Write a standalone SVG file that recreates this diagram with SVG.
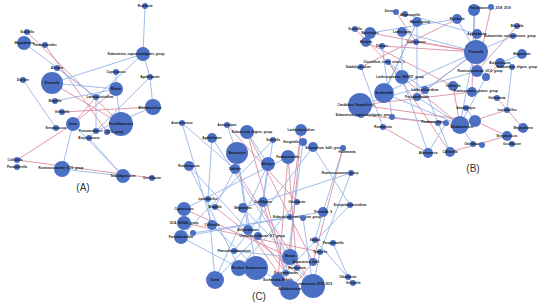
<svg xmlns="http://www.w3.org/2000/svg" width="550" height="308" viewBox="0 0 550 308">
<style>
.n{fill:#4a6fc3}
.e line{stroke-width:1;stroke-opacity:.85;fill:none}
.b{stroke:#8fb2e6}
.r{stroke:#d98a9e}
.t{font-family:"Liberation Sans",Arial,sans-serif;font-size:3px;font-weight:bold;fill:#111;text-anchor:middle;dominant-baseline:central}
.p{font-family:"Liberation Sans",Arial,sans-serif;font-size:10px;fill:#333;text-anchor:middle}
</style>
<rect width="550" height="308" fill="#fff"/>
<g id="connectors" class="e">
<!-- Panel A -->
<line class="b" x1="145" y1="6" x2="143" y2="54"/>
<line class="r" x1="27" y1="32" x2="121" y2="124"/>
<line class="r" x1="45" y1="45" x2="107" y2="132"/>
<line class="b" x1="24" y1="43" x2="96" y2="97"/>
<line class="b" x1="143" y1="54" x2="52" y2="83"/>
<line class="b" x1="143" y1="54" x2="150" y2="77"/>
<line class="b" x1="143" y1="54" x2="96" y2="97"/>
<line class="b" x1="150" y1="77" x2="153" y2="107"/>
<line class="b" x1="150" y1="77" x2="89" y2="138"/>
<line class="b" x1="57" y1="68" x2="96" y2="97"/>
<line class="b" x1="52" y1="83" x2="116" y2="89"/>
<line class="r" x1="52" y1="83" x2="121" y2="124"/>
<line class="b" x1="23" y1="80" x2="56" y2="128"/>
<line class="b" x1="116" y1="72" x2="116" y2="89"/>
<line class="b" x1="116" y1="89" x2="121" y2="124"/>
<line class="r" x1="116" y1="89" x2="73" y2="124"/>
<line class="b" x1="55" y1="101" x2="116" y2="89"/>
<line class="r" x1="62" y1="112" x2="153" y2="107"/>
<line class="r" x1="96" y1="97" x2="73" y2="124"/>
<line class="b" x1="96" y1="97" x2="96" y2="131"/>
<line class="b" x1="73" y1="124" x2="62" y2="169"/>
<line class="b" x1="73" y1="124" x2="123" y2="176"/>
<line class="r" x1="73" y1="124" x2="17" y2="160"/>
<line class="r" x1="17" y1="160" x2="152" y2="178"/>
<line class="b" x1="62" y1="169" x2="123" y2="176"/>
<line class="b" x1="89" y1="138" x2="123" y2="176"/>
<line class="b" x1="121" y1="124" x2="107" y2="132"/>
<line class="b" x1="153" y1="107" x2="96" y2="131"/>
<!-- Panel B -->
<line class="r" x1="370" y1="33" x2="476" y2="52"/>
<line class="r" x1="366" y1="42" x2="453" y2="86"/>
<line class="b" x1="402" y1="32" x2="402" y2="77"/>
<line class="b" x1="402" y1="32" x2="476" y2="52"/>
<line class="b" x1="417" y1="22" x2="384" y2="93"/>
<line class="b" x1="457" y1="19" x2="476" y2="52"/>
<line class="r" x1="457" y1="19" x2="361" y2="67"/>
<line class="b" x1="474" y1="10" x2="476" y2="52"/>
<line class="r" x1="474" y1="10" x2="472" y2="92"/>
<line class="r" x1="396" y1="12" x2="416" y2="42"/>
<line class="b" x1="405" y1="14" x2="477" y2="34"/>
<line class="r" x1="355" y1="29" x2="402" y2="77"/>
<line class="r" x1="416" y1="42" x2="476" y2="52"/>
<line class="b" x1="382" y1="46" x2="392" y2="117"/>
<line class="r" x1="517" y1="26" x2="477" y2="71"/>
<line class="b" x1="477" y1="34" x2="460" y2="125"/>
<line class="b" x1="513" y1="36" x2="476" y2="52"/>
<line class="b" x1="476" y1="52" x2="384" y2="93"/>
<line class="b" x1="476" y1="52" x2="477" y2="71"/>
<line class="r" x1="476" y1="52" x2="417" y2="97"/>
<line class="b" x1="522" y1="54" x2="500" y2="63"/>
<line class="r" x1="500" y1="63" x2="486" y2="77"/>
<line class="b" x1="512" y1="67" x2="507" y2="110"/>
<line class="r" x1="388" y1="62" x2="450" y2="152"/>
<line class="b" x1="361" y1="67" x2="383" y2="127"/>
<line class="r" x1="402" y1="77" x2="460" y2="125"/>
<line class="b" x1="402" y1="77" x2="428" y2="153"/>
<line class="b" x1="477" y1="71" x2="360" y2="105"/>
<line class="b" x1="486" y1="77" x2="460" y2="125"/>
<line class="b" x1="384" y1="93" x2="460" y2="125"/>
<line class="b" x1="425" y1="90" x2="450" y2="152"/>
<line class="b" x1="425" y1="90" x2="476" y2="52"/>
<line class="r" x1="453" y1="86" x2="460" y2="125"/>
<line class="r" x1="472" y1="92" x2="360" y2="105"/>
<line class="r" x1="497" y1="98" x2="523" y2="128"/>
<line class="b" x1="417" y1="97" x2="460" y2="125"/>
<line class="r" x1="360" y1="105" x2="475" y2="121"/>
<line class="b" x1="392" y1="117" x2="438" y2="123"/>
<line class="b" x1="466" y1="108" x2="475" y2="121"/>
<line class="r" x1="507" y1="110" x2="460" y2="125"/>
<line class="b" x1="460" y1="125" x2="473" y2="144"/>
<line class="r" x1="475" y1="121" x2="507" y2="136"/>
<line class="r" x1="507" y1="136" x2="450" y2="152"/>
<line class="b" x1="446" y1="123" x2="428" y2="153"/>
<line class="b" x1="473" y1="144" x2="482" y2="145"/>
<line class="r" x1="361" y1="115" x2="460" y2="125"/>
<line class="r" x1="491" y1="7" x2="477" y2="71"/>
<line class="b" x1="417" y1="22" x2="417" y2="97"/>
<line class="r" x1="382" y1="46" x2="476" y2="52"/>
<line class="b" x1="388" y1="62" x2="425" y2="90"/>
<line class="r" x1="383" y1="127" x2="428" y2="153"/>
<line class="b" x1="370" y1="33" x2="457" y2="19"/>
<line class="b" x1="384" y1="93" x2="417" y2="22"/>
<!-- Panel C -->
<line class="b" x1="182" y1="123" x2="212" y2="225"/>
<line class="b" x1="182" y1="123" x2="235" y2="169"/>
<line class="b" x1="227" y1="125" x2="237" y2="153"/>
<line class="r" x1="247" y1="132" x2="313" y2="262"/>
<line class="r" x1="247" y1="132" x2="286" y2="273"/>
<line class="b" x1="247" y1="132" x2="268" y2="164"/>
<line class="b" x1="212" y1="138" x2="208" y2="199"/>
<line class="b" x1="273" y1="140" x2="263" y2="202"/>
<line class="r" x1="301" y1="130" x2="290" y2="257"/>
<line class="r" x1="301" y1="130" x2="290" y2="217"/>
<line class="b" x1="303" y1="142" x2="286" y2="273"/>
<line class="b" x1="313" y1="147" x2="350" y2="205"/>
<line class="b" x1="343" y1="148" x2="323" y2="212"/>
<line class="b" x1="237" y1="153" x2="256" y2="268"/>
<line class="b" x1="237" y1="153" x2="248" y2="230"/>
<line class="b" x1="288" y1="157" x2="184" y2="209"/>
<line class="r" x1="288" y1="157" x2="278" y2="280"/>
<line class="r" x1="288" y1="157" x2="297" y2="268"/>
<line class="b" x1="189" y1="166" x2="239" y2="268"/>
<line class="b" x1="189" y1="166" x2="248" y2="230"/>
<line class="r" x1="235" y1="169" x2="313" y2="286"/>
<line class="b" x1="268" y1="164" x2="215" y2="280"/>
<line class="b" x1="268" y1="164" x2="258" y2="236"/>
<line class="b" x1="351" y1="173" x2="320" y2="252"/>
<line class="b" x1="351" y1="173" x2="243" y2="208"/>
<line class="b" x1="208" y1="199" x2="215" y2="280"/>
<line class="r" x1="263" y1="202" x2="290" y2="290"/>
<line class="b" x1="297" y1="202" x2="239" y2="268"/>
<line class="b" x1="350" y1="205" x2="278" y2="280"/>
<line class="b" x1="323" y1="212" x2="315" y2="240"/>
<line class="r" x1="184" y1="209" x2="290" y2="257"/>
<line class="b" x1="184" y1="209" x2="184" y2="223"/>
<line class="r" x1="215" y1="207" x2="313" y2="286"/>
<line class="b" x1="243" y1="208" x2="290" y2="257"/>
<line class="r" x1="184" y1="223" x2="320" y2="252"/>
<line class="b" x1="212" y1="225" x2="256" y2="268"/>
<line class="b" x1="290" y1="217" x2="181" y2="237"/>
<line class="b" x1="303" y1="218" x2="313" y2="286"/>
<line class="b" x1="193" y1="233" x2="323" y2="212"/>
<line class="r" x1="248" y1="230" x2="290" y2="290"/>
<line class="r" x1="258" y1="236" x2="286" y2="273"/>
<line class="b" x1="315" y1="240" x2="353" y2="283"/>
<line class="b" x1="333" y1="243" x2="348" y2="277"/>
<line class="b" x1="234" y1="251" x2="290" y2="257"/>
<line class="b" x1="290" y1="257" x2="278" y2="280"/>
<line class="b" x1="320" y1="252" x2="313" y2="286"/>
<line class="r" x1="313" y1="262" x2="290" y2="290"/>
<line class="b" x1="256" y1="268" x2="278" y2="280"/>
<line class="b" x1="297" y1="268" x2="313" y2="286"/>
<line class="b" x1="215" y1="280" x2="258" y2="236"/>
<line class="r" x1="343" y1="148" x2="313" y2="262"/>
<line class="r" x1="227" y1="125" x2="297" y2="202"/>
<line class="b" x1="212" y1="138" x2="297" y2="268"/>
<line class="b" x1="273" y1="140" x2="181" y2="237"/>
<line class="b" x1="313" y1="147" x2="234" y2="251"/>
<line class="b" x1="235" y1="169" x2="215" y2="207"/>
<line class="b" x1="181" y1="237" x2="239" y2="268"/>
</g>
<!-- Panel A nodes -->
<g id="A1"><circle class="n" cx="145" cy="6" r="3"/><text class="t" x="145" y="6">Roseburia</text></g>
<g id="A2"><circle class="n" cx="27" cy="32" r="3"/><text class="t" x="27" y="32">Sutterella</text></g>
<g id="A3"><circle class="n" cx="24" cy="43" r="7"/><text class="t" x="24" y="43">Megasphaera</text></g>
<g id="A4"><circle class="n" cx="45" cy="45" r="3"/><text class="t" x="45" y="45">Parabacteroides</text></g>
<g id="A5"><circle class="n" cx="143" cy="54" r="7"/><text class="t" x="136" y="54">Eubacterium_coprostanoligenes_group</text></g>
<g id="A6"><circle class="n" cx="57" cy="68" r="3"/><text class="t" x="57" y="68">Alistipes</text></g>
<g id="A7"><circle class="n" cx="52" cy="83" r="11"/><text class="t" x="52" y="83">Prevotella</text></g>
<g id="A8"><circle class="n" cx="23" cy="80" r="3"/><text class="t" x="23" y="80">Dialister</text></g>
<g id="A9"><circle class="n" cx="116" cy="72" r="3"/><text class="t" x="116" y="72">Coprococcus</text></g>
<g id="A10"><circle class="n" cx="150" cy="77" r="3"/><text class="t" x="150" y="77">Agathobacter</text></g>
<g id="A11"><circle class="n" cx="116" cy="89" r="7"/><text class="t" x="116" y="89">Blautia</text></g>
<g id="A12"><circle class="n" cx="96" cy="97" r="3"/><text class="t" x="100" y="97">Lachnoclostridium</text></g>
<g id="A13"><circle class="n" cx="55" cy="101" r="3"/><text class="t" x="55" y="101">Bilophila</text></g>
<g id="A14"><circle class="n" cx="62" cy="112" r="3"/><text class="t" x="62" y="112">Veillonella</text></g>
<g id="A15"><circle class="n" cx="153" cy="107" r="8"/><text class="t" x="150" y="108">Bifidobacterium</text></g>
<g id="A17"><circle class="n" cx="73" cy="124" r="7"/><text class="t" x="73" y="124">Dorea</text></g>
<g id="A18"><circle class="n" cx="56" cy="128" r="3"/><text class="t" x="56" y="128">Streptococcus</text></g>
<g id="A19"><circle class="n" cx="121" cy="124" r="12"/><text class="t" x="121" y="124">Faecalibacterium</text></g>
<g id="A20"><circle class="n" cx="96" cy="131" r="3"/><text class="t" x="91" y="131">Fusicatenibacter</text></g>
<g id="A21"><circle class="n" cx="107" cy="132" r="3"/><text class="t" x="115" y="132">UCG_group</text></g>
<g id="A22"><circle class="n" cx="89" cy="138" r="3"/><text class="t" x="89" y="138">Butyricicoccus</text></g>
<g id="A23"><circle class="n" cx="17" cy="160" r="3"/><text class="t" x="15" y="160">Collinsella</text></g>
<g id="A24"><circle class="n" cx="17" cy="167" r="3"/><text class="t" x="17" y="167">Parasutterella</text></g>
<g id="A25"><circle class="n" cx="62" cy="169" r="8"/><text class="t" x="61" y="168">Ruminococcaceae_UCG_group</text></g>
<g id="A26"><circle class="n" cx="123" cy="176" r="7"/><text class="t" x="123" y="176">Subdoligranulum</text></g>
<g id="A27"><circle class="n" cx="152" cy="178" r="3"/><text class="t" x="152" y="178">Oscillibacter</text></g>
<!-- Panel B nodes -->
<g id="B1"><circle class="n" cx="474" cy="10" r="6"/><text class="t" x="490" y="8">Faecalibacterium_2018_2019</text></g>
<g id="B2"><circle class="n" cx="491" cy="7" r="3"/></g>
<g id="B3"><circle class="n" cx="396" cy="12" r="3"/><text class="t" x="389" y="11">Dorea</text></g>
<g id="B4"><circle class="n" cx="405" cy="14" r="3"/><text class="t" x="410" y="15">Alloprevotella</text></g>
<g id="B5"><circle class="n" cx="417" cy="22" r="5"/><text class="t" x="420" y="22">Blautia_group</text></g>
<g id="B6"><circle class="n" cx="457" cy="19" r="5"/><text class="t" x="457" y="19">Roseburia</text></g>
<g id="B7"><circle class="n" cx="370" cy="33" r="6"/><text class="t" x="370" y="33">Bacteroides</text></g>
<g id="B8"><circle class="n" cx="366" cy="42" r="5"/><text class="t" x="366" y="42">Alistipes</text></g>
<g id="B9"><circle class="n" cx="355" cy="29" r="3"/><text class="t" x="355" y="29">Sutterella</text></g>
<g id="B10"><circle class="n" cx="402" cy="32" r="5"/><text class="t" x="402" y="32">Lachnospira</text></g>
<g id="B11"><circle class="n" cx="416" cy="42" r="3"/><text class="t" x="416" y="42">Coprococcus</text></g>
<g id="B12"><circle class="n" cx="382" cy="46" r="3"/><text class="t" x="382" y="46">Dialister</text></g>
<g id="B13"><circle class="n" cx="517" cy="26" r="3"/><text class="t" x="517" y="26">Bilophila</text></g>
<g id="B14"><circle class="n" cx="477" cy="34" r="5"/><text class="t" x="477" y="34">Agathobacter</text></g>
<g id="B15"><circle class="n" cx="513" cy="36" r="3"/><text class="t" x="510" y="36">Eubacterium_oxidoreducens_group</text></g>
<g id="B16"><circle class="n" cx="476" cy="52" r="12"/><text class="t" x="476" y="52">Prevotella</text></g>
<g id="B17"><circle class="n" cx="522" cy="54" r="5"/><text class="t" x="522" y="54">Megamonas</text></g>
<g id="B18"><circle class="n" cx="500" cy="63" r="5"/><text class="t" x="500" y="63">Butyricicoccus</text></g>
<g id="B19"><circle class="n" cx="512" cy="67" r="3"/><text class="t" x="517" y="67">Eubacterium_eligens_group</text></g>
<g id="B20"><circle class="n" cx="388" cy="62" r="3"/><text class="t" x="384" y="62">Clostridium_sensu_stricto_1</text></g>
<g id="B21"><circle class="n" cx="361" cy="67" r="3"/><text class="t" x="358" y="67">Subdoligranulum</text></g>
<g id="B22"><circle class="n" cx="402" cy="77" r="7"/><text class="t" x="400" y="77">Lachnospiraceae_ND3007_group</text></g>
<g id="B23"><circle class="n" cx="477" cy="71" r="6"/><text class="t" x="480" y="71">Ruminococcaceae_UCG_group</text></g>
<g id="B24"><circle class="n" cx="486" cy="77" r="4"/></g>
<g id="B25"><circle class="n" cx="384" cy="93" r="10"/><text class="t" x="384" y="93">Escherichia</text></g>
<g id="B26"><circle class="n" cx="425" cy="90" r="4"/><text class="t" x="425" y="90">Lachnoclostridium</text></g>
<g id="B27"><circle class="n" cx="453" cy="86" r="5"/><text class="t" x="453" y="86">Veillonella</text></g>
<g id="B28"><circle class="n" cx="472" cy="92" r="5"/><text class="t" x="476" y="91">Ruminococcus_gnavus_group</text></g>
<g id="B29"><circle class="n" cx="497" cy="98" r="3"/><text class="t" x="497" y="98">Holdemania</text></g>
<g id="B30"><circle class="n" cx="417" cy="97" r="4"/><text class="t" x="417" y="97">Fusicatenibacter</text></g>
<g id="B31"><circle class="n" cx="360" cy="105" r="12"/><text class="t" x="356" y="105">Candidatus_Stoquefichus</text></g>
<g id="B32"><circle class="n" cx="361" cy="115" r="3"/><text class="t" x="364" y="115">Eubacterium_coprostanoligenes_group</text></g>
<g id="B33"><circle class="n" cx="392" cy="117" r="3"/></g>
<g id="B34"><circle class="n" cx="383" cy="127" r="3"/><text class="t" x="383" y="127">Romboutsia</text></g>
<g id="B35"><circle class="n" cx="466" cy="108" r="3"/><text class="t" x="466" y="108">Anaerostipes</text></g>
<g id="B36"><circle class="n" cx="507" cy="110" r="3"/><text class="t" x="507" y="110">Lactobacillus</text></g>
<g id="B37"><circle class="n" cx="460" cy="125" r="9"/><text class="t" x="462" y="127">Bifidobacterium</text></g>
<g id="B38"><circle class="n" cx="475" cy="121" r="6"/></g>
<g id="B39"><circle class="n" cx="438" cy="123" r="3"/><text class="t" x="433" y="122">Parabacteroides</text></g>
<g id="B40"><circle class="n" cx="446" cy="123" r="3"/></g>
<g id="B41"><circle class="n" cx="523" cy="128" r="5"/><text class="t" x="523" y="128">Megasphaera</text></g>
<g id="B42"><circle class="n" cx="507" cy="136" r="5"/><text class="t" x="507" y="136">Streptococcus</text></g>
<g id="B43"><circle class="n" cx="512" cy="144" r="3"/><text class="t" x="512" y="144">Oscillibacter</text></g>
<g id="B44"><circle class="n" cx="473" cy="144" r="3"/><text class="t" x="473" y="144">Odoribacter</text></g>
<g id="B45"><circle class="n" cx="482" cy="145" r="3"/></g>
<g id="B46"><circle class="n" cx="428" cy="153" r="5"/><text class="t" x="428" y="153">Akkermansia</text></g>
<g id="B47"><circle class="n" cx="450" cy="152" r="5"/><text class="t" x="450" y="152">Collinsella</text></g>
<!-- Panel C nodes -->
<g id="C1"><circle class="n" cx="182" cy="123" r="3"/><text class="t" x="182" y="123">Anaerotruncus</text></g>
<g id="C2"><circle class="n" cx="227" cy="125" r="3"/><text class="t" x="227" y="125">Anaerostipes</text></g>
<g id="C3"><circle class="n" cx="247" cy="132" r="7"/><text class="t" x="252" y="132">Eubacterium_eligens_group</text></g>
<g id="C4"><circle class="n" cx="212" cy="138" r="5"/><text class="t" x="212" y="138">Agathobacter</text></g>
<g id="C5"><circle class="n" cx="273" cy="140" r="3"/><text class="t" x="273" y="140">Sutterella</text></g>
<g id="C6"><circle class="n" cx="301" cy="130" r="6"/><text class="t" x="301" y="130">Lachnoclostridium</text></g>
<g id="C7"><circle class="n" cx="303" cy="142" r="4"/><text class="t" x="291" y="142">Hungatella</text></g>
<g id="C8"><circle class="n" cx="313" cy="147" r="5"/><text class="t" x="324" y="148">Eubacterium_hallii_group</text></g>
<g id="C9"><circle class="n" cx="343" cy="148" r="3"/><text class="t" x="347" y="152">Holdemania</text></g>
<g id="C10"><circle class="n" cx="237" cy="153" r="11"/><text class="t" x="237" y="153">Bacteroides</text></g>
<g id="C11"><circle class="n" cx="288" cy="157" r="7"/><text class="t" x="288" y="157">Parabacteroides</text></g>
<g id="C12"><circle class="n" cx="189" cy="166" r="5"/><text class="t" x="189" y="166">Ruminococcus</text></g>
<g id="C13"><circle class="n" cx="235" cy="169" r="5"/><text class="t" x="235" y="169">Dialister</text></g>
<g id="C14"><circle class="n" cx="268" cy="164" r="7"/><text class="t" x="268" y="164">Alistipes</text></g>
<g id="C15"><circle class="n" cx="351" cy="173" r="3"/><text class="t" x="340" y="173">Ruminococcaceae_group</text></g>
<g id="C16"><circle class="n" cx="208" cy="199" r="3"/><text class="t" x="208" y="199">Lactobacillus</text></g>
<g id="C17"><circle class="n" cx="263" cy="202" r="5"/><text class="t" x="263" y="202">Oscillibacter</text></g>
<g id="C18"><circle class="n" cx="297" cy="202" r="3"/><text class="t" x="297" y="202">Odoribacter</text></g>
<g id="C19"><circle class="n" cx="350" cy="205" r="3"/><text class="t" x="350" y="205">Erysipelatoclostridium</text></g>
<g id="C20"><circle class="n" cx="323" cy="212" r="5"/><text class="t" x="323" y="212">Prevotella_9</text></g>
<g id="C21"><circle class="n" cx="184" cy="209" r="7"/><text class="t" x="184" y="209">Coprococcus</text></g>
<g id="C22"><circle class="n" cx="215" cy="207" r="3"/><text class="t" x="215" y="207">Bilophila</text></g>
<g id="C23"><circle class="n" cx="243" cy="208" r="5"/><text class="t" x="243" y="208">Megamonas</text></g>
<g id="C24"><circle class="n" cx="184" cy="223" r="7"/><text class="t" x="184" y="223">GCA_900066_group</text></g>
<g id="C25"><circle class="n" cx="212" cy="225" r="5"/><text class="t" x="212" y="225">Collinsella</text></g>
<g id="C26"><circle class="n" cx="290" cy="217" r="3"/><text class="t" x="297" y="217">Eubacterium_ruminantium_group</text></g>
<g id="C27"><circle class="n" cx="303" cy="218" r="3"/></g>
<g id="C28"><circle class="n" cx="181" cy="237" r="7"/><text class="t" x="181" y="237">Faecalibacterium</text></g>
<g id="C29"><circle class="n" cx="193" cy="233" r="3"/></g>
<g id="C30"><circle class="n" cx="248" cy="230" r="5"/><text class="t" x="248" y="230">Butyricimonas</text></g>
<g id="C31"><circle class="n" cx="258" cy="236" r="4"/><text class="t" x="262" y="236">Christensenellaceae_R-7_group</text></g>
<g id="C32"><circle class="n" cx="315" cy="240" r="3"/><text class="t" x="315" y="240">Slackia</text></g>
<g id="C33"><circle class="n" cx="333" cy="243" r="3"/><text class="t" x="333" y="243">Paraprevotella</text></g>
<g id="C34"><circle class="n" cx="234" cy="251" r="3"/><text class="t" x="234" y="251">Phascolarctobacterium</text></g>
<g id="C35"><circle class="n" cx="290" cy="257" r="8"/><text class="t" x="290" y="256">Blautia</text></g>
<g id="C36"><circle class="n" cx="320" cy="252" r="3"/><text class="t" x="320" y="252">Tyzzerella</text></g>
<g id="C37"><circle class="n" cx="313" cy="262" r="4"/><text class="t" x="306" y="262">Eubacterium_hallii</text></g>
<g id="C38"><circle class="n" cx="239" cy="268" r="8"/><text class="t" x="239" y="268">Roseburia</text></g>
<g id="C39"><circle class="n" cx="256" cy="268" r="12"/><text class="t" x="256" y="268">Streptococcus</text></g>
<g id="C40"><circle class="n" cx="297" cy="268" r="3"/><text class="t" x="297" y="268">Romboutsia</text></g>
<g id="C41"><circle class="n" cx="286" cy="273" r="3"/><text class="t" x="286" y="273">Fusicatenibacter</text></g>
<g id="C42"><circle class="n" cx="215" cy="280" r="9"/><text class="t" x="215" y="280">Dorea</text></g>
<g id="C43"><circle class="n" cx="278" cy="280" r="7"/><text class="t" x="278" y="280">Escherichia-Shigella</text></g>
<g id="C44"><circle class="n" cx="313" cy="286" r="12"/><text class="t" x="313" y="284">Ruminococcus_2018_2019</text></g>
<g id="C45"><circle class="n" cx="290" cy="290" r="10"/><text class="t" x="290" y="289">Bifidobacterium</text></g>
<g id="C46"><circle class="n" cx="348" cy="277" r="3"/><text class="t" x="348" y="277">Odoribacter</text></g>
<g id="C47"><circle class="n" cx="353" cy="283" r="3"/><text class="t" x="353" y="283">Veillonella</text></g>
<text class="p" x="83" y="191">(A)</text>
<text class="p" x="473" y="172">(B)</text>
<text class="p" x="259" y="300">(C)</text>
</svg>
